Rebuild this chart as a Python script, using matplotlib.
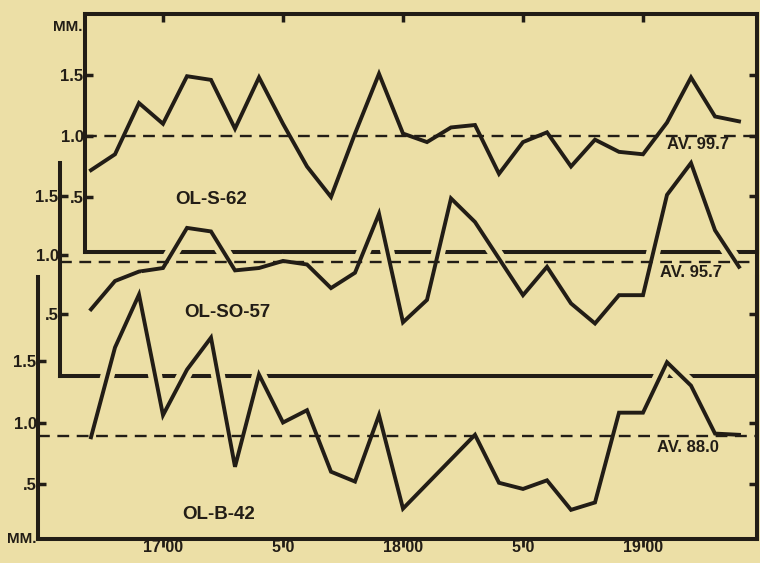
#!/usr/bin/env python3
"""
Gauge readings, three stations, 16:42 - 19:24

Stacked, offset panels copied from an old printed figure.
"""

import numpy as np
import matplotlib.pyplot as plt
from matplotlib import patheffects as pe

# Data: readings every 6 minutes (minutes after 16:00)
minutes = np.arange(42, 205, 6)

ol_s_62 = [0.72, 0.85, 1.27, 1.10, 1.49, 1.46, 1.06, 1.48, 1.10, 0.75,
           0.50, 1.02, 1.51, 1.02, 0.95, 1.07, 1.09, 0.69, 0.95, 1.03,
           0.75, 0.97, 0.87, 0.85, 1.11, 1.48, 1.16, 1.12]
ol_so_57 = [0.54, 0.78, 0.86, 0.89, 1.23, 1.20, 0.87, 0.89, 0.95, 0.92,
            0.72, 0.85, 1.35, 0.43, 0.62, 1.48, 1.28, 0.97, 0.66, 0.90,
            0.59, 0.42, 0.66, 0.66, 1.51, 1.78, 1.21, 0.90]
ol_b_42 = [0.88, 1.61, 2.04, 1.06, 1.43, 1.69, 0.64, 1.39, 1.00, 1.10,
           0.60, 0.52, 1.06, 0.30, 0.50, 0.70, 0.90, 0.51, 0.46, 0.53,
           0.29, 0.35, 1.08, 1.08, 1.49, 1.30, 0.91, 0.90]

panel_names = ["OL-S-62", "OL-SO-57", "OL-B-42"]
avg_levels = [1.00, 0.94, 0.89]
avg_labels = ["AV. 99.7", "AV. 95.7", "AV. 88.0"]

xtick_minutes = [60, 90, 120, 150, 180]
xtick_labels = ["17 00", "5 0", "18 00", "5 0", "19 00"]
ytick_values = [0.5, 1.0, 1.5]
ytick_labels = [".5", "1.0", "1.5"]

# Style
BG = "#ecdfa6"
INK = "#221d16"
W, H = 760, 563
FONT = "Liberation Sans"

plt.rcParams["font.family"] = FONT
plt.rcParams["font.weight"] = "bold"

fig = plt.figure(figsize=(W / 100, H / 100), dpi=100, facecolor=BG)


def px_axes(left, top, right, bottom):
    """Add an axes from a pixel box"""
    ax = fig.add_axes([left / W, 1 - bottom / H, (right - left) / W, (bottom - top) / H])
    ax.set_facecolor("none")
    # 4 px per minute, 17:00 sits at x=163
    ax.set_xlim(60 + (left - 163) / 4, 60 + (right - 163) / 4)
    for s in ax.spines.values():
        s.set_color(INK)
        s.set_linewidth(2.9)
        s.set_capstyle("projecting")
    return ax


# panel boxes (px) and y ranges
boxes = [(85, 14, 757, 252), (60, 163, 757, 376), (38, 277, 757, 539)]
ylims = [(0.049, 2.0), (-0.025, 1.78), (0.053, 2.183)]
series = [ol_s_62, ol_so_57, ol_b_42]
name_pos = [(72, 0.48), (76, 0.51), (74, 0.25)]
av_pos = [(186, 0.93), (184.3, 0.85), (183.5, 0.80)]
right_ticks = [[1.0, 1.5], [0.5, 1.5], [0.5, 1.0]]

axes = []
for i in range(3):
    ax = px_axes(*boxes[i])
    ax.set_ylim(*ylims[i])
    axes.append(ax)

    # lower curves cut through the frame lines above them
    effects = [pe.Stroke(linewidth=10, foreground=BG), pe.Normal()] if i > 0 else None
    ax.plot(minutes, series[i], color=INK, lw=2.8, solid_joinstyle="miter",
            clip_on=False, zorder=3, path_effects=effects)
    ax.axhline(avg_levels[i], color=INK, lw=1.7, dashes=(5, 3.2), zorder=4)

    ax.text(*name_pos[i], panel_names[i], ha="center", va="center",
            fontsize=13.5, color=INK)
    ax.text(*av_pos[i], avg_labels[i], ha="left", va="center",
            fontsize=12, color=INK)

    ax.set_yticks(ytick_values)
    ax.set_yticklabels(ytick_labels)
    ax.tick_params(axis="y", which="both", direction="in", length=6, width=2.5,
                   colors=INK, labelsize=12, pad=1)
    ax.tick_params(axis="y", left=True, right=False)
    # right-hand ticks
    sec = ax.secondary_yaxis("right")
    sec.set_yticks(right_ticks[i])
    sec.tick_params(direction="in", length=6, width=2.5, colors=INK, labelright=False)
    sec.spines["right"].set_visible(False)

    ax.set_xticks(xtick_minutes)
    ax.tick_params(axis="x", bottom=False, labelbottom=False, top=False)

# top panel: frame on top with ticks hanging inward
ax_top, ax_mid, ax_bot = axes
ax_top.tick_params(axis="x", top=True, direction="in", length=6, width=2.5, colors=INK)
ax_mid.spines["top"].set_visible(False)
ax_bot.spines["top"].set_visible(False)

# bottom panel carries the time axis
ax_bot.set_xticklabels(xtick_labels)
ax_bot.tick_params(axis="x", bottom=True, labelbottom=True, direction="out",
                   length=6, width=2, colors=INK, labelsize=11.5, pad=-5)

# unit labels
ax_top.text(-0.004, 0.945, "MM.", transform=ax_top.transAxes, ha="right",
            va="center", fontsize=11, color=INK)
ax_bot.text(-0.002, 0.0, "MM.", transform=ax_bot.transAxes, ha="right",
            va="center", fontsize=11, color=INK)

fig.savefig("out.png", dpi=100, facecolor=BG)
